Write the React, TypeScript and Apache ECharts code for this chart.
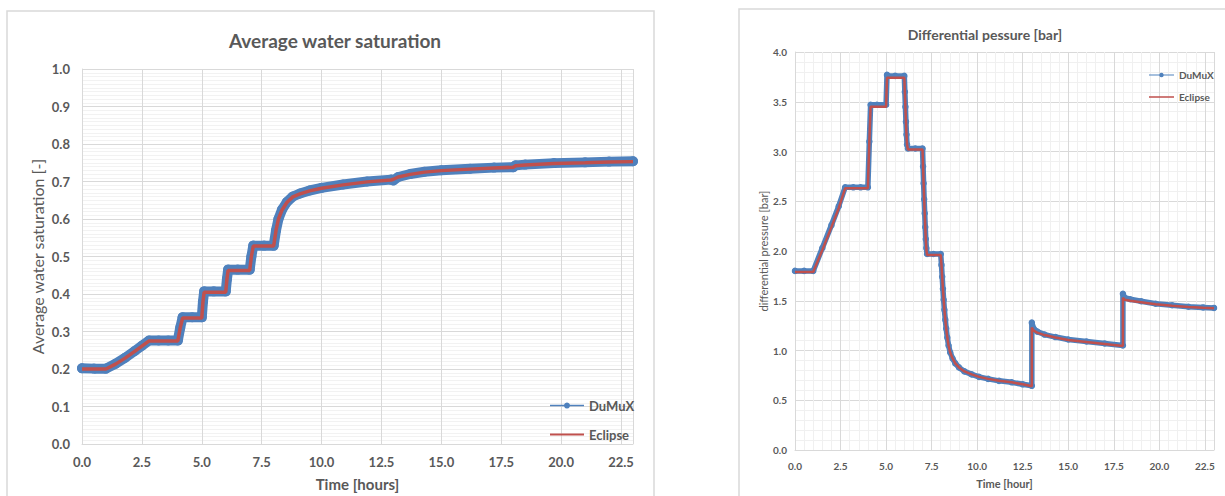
import React, { useEffect, useRef } from "react";
import * as echarts from "echarts";

// Average water saturation vs. time
const satHours = [
  0, 0.5, 1.0, 1.4, 1.8, 2.2, 2.5, 2.8, 3.2, 3.6, 4.0, 4.1, 4.2, 4.6, 5.0, 5.05, 5.1, 5.5, 6.0, 6.05,
  6.1, 6.5, 7.0, 7.07, 7.15, 7.6, 8.0, 8.1, 8.2, 8.35, 8.55, 8.8, 9.1, 9.5, 10.0, 10.9, 11.9, 12.9,
  13.0, 13.2, 13.7, 14.3, 15.0, 16.2, 17.2, 18.0, 18.1, 18.5, 19.7, 21.0, 22.0, 23.0,
];
const satDumux = [
  0.202, 0.201, 0.201, 0.214, 0.23, 0.248, 0.262, 0.276, 0.276, 0.276, 0.276, 0.31, 0.338, 0.338,
  0.338, 0.38, 0.407, 0.407, 0.407, 0.44, 0.465, 0.465, 0.465, 0.5, 0.529, 0.529, 0.529, 0.57, 0.6,
  0.625, 0.645, 0.66, 0.668, 0.676, 0.683, 0.692, 0.7, 0.705, 0.703, 0.712, 0.72, 0.726, 0.73, 0.734,
  0.737, 0.738, 0.743, 0.745, 0.749, 0.751, 0.753, 0.754,
];
const satEclipse = [
  0.2, 0.2, 0.2, 0.213, 0.229, 0.247, 0.261, 0.275, 0.275, 0.275, 0.275, 0.31, 0.336, 0.336, 0.336,
  0.38, 0.405, 0.405, 0.405, 0.44, 0.463, 0.463, 0.463, 0.5, 0.528, 0.528, 0.528, 0.57, 0.6, 0.624,
  0.644, 0.659, 0.667, 0.675, 0.682, 0.691, 0.699, 0.704, 0.706, 0.712, 0.719, 0.725, 0.729, 0.733,
  0.736, 0.738, 0.742, 0.744, 0.748, 0.75, 0.752, 0.753,
];

// Differential pressure vs. time (duplicated hours mark the injection-rate jumps)
const dpHours = [
  0, 0.5, 1.0, 1.5, 2.0, 2.4, 2.75, 3.2, 3.6, 4.0, 4.08, 4.15, 4.5, 5.0, 5.05, 5.1, 5.5, 6.0, 6.03,
  6.06, 6.09, 6.12, 6.15, 6.2, 6.6, 7.0, 7.03, 7.06, 7.09, 7.12, 7.15, 7.18, 7.21, 7.25, 7.6, 8.0,
  8.04, 8.08, 8.12, 8.16, 8.2, 8.25, 8.3, 8.36, 8.43, 8.52, 8.65, 8.8, 9.0, 9.3, 9.7, 10.1, 10.6,
  11.2, 11.9, 12.5, 13.0, 13.0, 13.1, 13.3, 13.7, 14.3, 15.0, 16.0, 17.0, 18.0, 18.0, 18.1, 18.4,
  19.0, 19.8, 20.7, 21.6, 22.4, 23.0,
];
const dpDumux = [
  1.8, 1.8, 1.8, 2.03, 2.26, 2.45, 2.64, 2.64, 2.64, 2.64, 3.1, 3.47, 3.47, 3.47, 3.77, 3.76, 3.76,
  3.76, 3.6, 3.45, 3.3, 3.17, 3.07, 3.03, 3.03, 3.03, 2.85, 2.68, 2.52, 2.38, 2.24, 2.12, 2.03, 1.97,
  1.97, 1.97, 1.86, 1.74, 1.62, 1.51, 1.41, 1.31, 1.22, 1.13, 1.05, 0.98, 0.92, 0.87, 0.83, 0.79,
  0.76, 0.735, 0.715, 0.695, 0.68, 0.66, 0.645, 1.28, 1.22, 1.19, 1.16, 1.135, 1.11, 1.09, 1.07,
  1.05, 1.57, 1.53, 1.515, 1.495, 1.47, 1.455, 1.44, 1.433, 1.428,
];
const dpEclipse = [
  1.79, 1.79, 1.79, 2.01, 2.24, 2.43, 2.63, 2.63, 2.63, 2.63, 3.1, 3.45, 3.45, 3.45, 3.74, 3.74,
  3.74, 3.74, 3.6, 3.45, 3.3, 3.17, 3.07, 3.02, 3.02, 3.02, 2.85, 2.68, 2.52, 2.38, 2.24, 2.12, 2.02,
  1.96, 1.96, 1.96, 1.86, 1.74, 1.62, 1.51, 1.41, 1.31, 1.22, 1.13, 1.05, 0.98, 0.92, 0.87, 0.83,
  0.79, 0.76, 0.735, 0.715, 0.695, 0.68, 0.66, 0.64, 1.23, 1.2, 1.18, 1.155, 1.13, 1.105, 1.085,
  1.065, 1.045, 1.53, 1.51, 1.5, 1.485, 1.465, 1.45, 1.437, 1.43, 1.425,
];

const FONT = "Lato, 'Open Sans', sans-serif";
const TEXT = "#595959";
const BLUE = "#4F81BD";
const RED = "#C0504D";
const GRID_MAJOR = "#d9d9d9";
const GRID_MINOR = "#f0f0f0";

// Legend icons: a plain bar (line only) and a bar with a dot (line + marker).
// Tiny corner specks pin the bounding box so the bar keeps its thickness.
const ICON_LINE =
  "path://M0,0L0.01,0L0,0.01Z M40,10L39.99,10L40,9.99Z M0,3.8H40V6.2H0Z";
const ICON_LINE_DOT =
  "path://M0,0L0.01,0L0,0.01Z M40,10L39.99,10L40,9.99Z M0,4.2H40V5.8H0Z M20,1.4A3.6,3.6 0 1 1 19.99,1.4Z";

const pairs = (xs: number[], ys: number[]) => xs.map((x, i) => [x, ys[i]]);

export default function App() {
  const ref = useRef<HTMLDivElement>(null);

  useEffect(() => {
    if (!ref.current) return;
    const chart = echarts.init(ref.current, undefined, { renderer: "svg" });

    const axisBase = {
      type: "value" as const,
      axisLine: { show: true, lineStyle: { color: GRID_MAJOR, width: 1 } },
      axisTick: { show: false },
      splitLine: { show: true, lineStyle: { color: GRID_MAJOR, width: 1 } },
    };

    chart.setOption({
      animation: false,
      backgroundColor: "#ffffff",
      textStyle: { fontFamily: FONT },
      graphic: [
        {
          type: "rect",
          shape: { x: 7, y: 11, width: 647, height: 500 },
          style: { fill: "none", stroke: "#d9d9d9", lineWidth: 1.5 },
          silent: true,
          z: -1,
        },
        {
          type: "rect",
          shape: { x: 739, y: 9, width: 500, height: 500 },
          style: { fill: "none", stroke: "#d9d9d9", lineWidth: 1.5 },
          silent: true,
          z: -1,
        },
      ],
      title: [
        {
          text: "Average water saturation",
          left: 330,
          top: 26,
          textAlign: "center",
          textStyle: { fontFamily: FONT, fontSize: 19, fontWeight: "bold", color: TEXT },
        },
        {
          text: "Differential pessure [bar]",
          left: 980,
          top: 22,
          textAlign: "center",
          textStyle: { fontFamily: FONT, fontSize: 14, fontWeight: "bold", color: TEXT },
        },
      ],
      legend: [
        {
          orient: "vertical",
          left: 545,
          top: 394,
          itemWidth: 34,
          itemHeight: 12,
          itemGap: 16,
          textStyle: { fontFamily: FONT, fontSize: 13, fontWeight: "bold", color: TEXT },
          data: [
            { name: "DuMuX", icon: ICON_LINE_DOT, itemStyle: { color: BLUE } },
            { name: "Eclipse", icon: ICON_LINE, itemStyle: { color: RED } },
          ],
        },
        {
          orient: "vertical",
          left: 1144,
          top: 65,
          itemWidth: 25,
          itemHeight: 8,
          itemGap: 12,
          textStyle: { fontFamily: FONT, fontSize: 10, fontWeight: "bold", color: TEXT },
          data: [
            { name: "DuMuX", icon: ICON_LINE_DOT, itemStyle: { color: BLUE } },
            { name: "Eclipse", icon: ICON_LINE, itemStyle: { color: RED } },
          ],
        },
      ],
      grid: [
        { left: 82, top: 69, width: 551, height: 380 },
        { left: 795, top: 52, width: 419, height: 398 },
      ],
      xAxis: [
        {
          ...axisBase,
          gridIndex: 0,
          min: 0,
          max: 23,
          interval: 2.5,
          axisLabel: {
            color: TEXT,
            fontSize: 13,
            fontWeight: "bold",
            margin: 11,
            showMaxLabel: false,
            formatter: (v: number) => v.toFixed(1),
          },
          name: "Time [hours]",
          nameLocation: "middle",
          nameGap: 32,
          nameTextStyle: { color: TEXT, fontSize: 15, fontWeight: "bold", fontFamily: FONT },
        },
        {
          ...axisBase,
          gridIndex: 1,
          min: 0,
          max: 23,
          interval: 2.5,
          minorTick: { show: false, splitNumber: 5 },
          minorSplitLine: { show: true, lineStyle: { color: GRID_MINOR, width: 1 } },
          axisLabel: {
            color: TEXT,
            fontSize: 10,
            fontWeight: "bold",
            margin: 11,
            showMaxLabel: false,
            formatter: (v: number) => v.toFixed(1),
          },
          name: "Time [hour]",
          nameLocation: "middle",
          nameGap: 28,
          nameTextStyle: { color: TEXT, fontSize: 11, fontWeight: "bold", fontFamily: FONT },
        },
      ],
      yAxis: [
        {
          ...axisBase,
          gridIndex: 0,
          min: 0,
          max: 1,
          interval: 0.1,
          minorTick: { show: false, splitNumber: 10 },
          minorSplitLine: { show: true, lineStyle: { color: "#f2f2f2", width: 1 } },
          axisLabel: {
            color: TEXT,
            fontSize: 13,
            fontWeight: "bold",
            margin: 12,
            formatter: (v: number) => v.toFixed(1),
          },
          name: "Average water saturation [-]",
          nameLocation: "middle",
          nameGap: 37,
          nameTextStyle: { color: TEXT, fontSize: 16, fontFamily: FONT },
        },
        {
          ...axisBase,
          gridIndex: 1,
          min: 0,
          max: 4,
          interval: 0.5,
          minorTick: { show: false, splitNumber: 5 },
          minorSplitLine: { show: true, lineStyle: { color: GRID_MINOR, width: 1 } },
          axisLabel: {
            color: TEXT,
            fontSize: 10,
            fontWeight: "bold",
            margin: 8,
            formatter: (v: number) => v.toFixed(1),
          },
          name: "differential pressure [bar]",
          nameLocation: "middle",
          nameGap: 26,
          nameTextStyle: { color: TEXT, fontSize: 11, fontFamily: FONT },
        },
      ],
      series: [
        {
          name: "DuMuX",
          type: "line",
          xAxisIndex: 0,
          yAxisIndex: 0,
          data: pairs(satHours, satDumux),
          symbol: "circle",
          symbolSize: 10,
          showAllSymbol: true,
          lineStyle: { color: BLUE, width: 10, cap: "round", join: "round" },
          itemStyle: { color: BLUE },
          z: 2,
        },
        {
          name: "Eclipse",
          type: "line",
          xAxisIndex: 0,
          yAxisIndex: 0,
          data: pairs(satHours, satEclipse),
          symbol: "none",
          lineStyle: { color: RED, width: 3.5 },
          itemStyle: { color: RED },
          z: 3,
        },
        {
          name: "DuMuX",
          type: "line",
          xAxisIndex: 1,
          yAxisIndex: 1,
          data: pairs(dpHours, dpDumux),
          symbol: "circle",
          symbolSize: 6.5,
          showAllSymbol: true,
          lineStyle: { color: BLUE, width: 5.5, cap: "round", join: "round" },
          itemStyle: { color: BLUE },
          z: 2,
        },
        {
          name: "Eclipse",
          type: "line",
          xAxisIndex: 1,
          yAxisIndex: 1,
          data: pairs(dpHours, dpEclipse),
          symbol: "none",
          lineStyle: { color: RED, width: 2.5 },
          itemStyle: { color: RED },
          z: 3,
        },
      ],
    });

    return () => chart.dispose();
  }, []);

  return (
    <div
      ref={ref}
      style={{ position: "fixed", left: 0, top: 0, width: 1225, height: 496, background: "#fff" }}
    />
  );
}
